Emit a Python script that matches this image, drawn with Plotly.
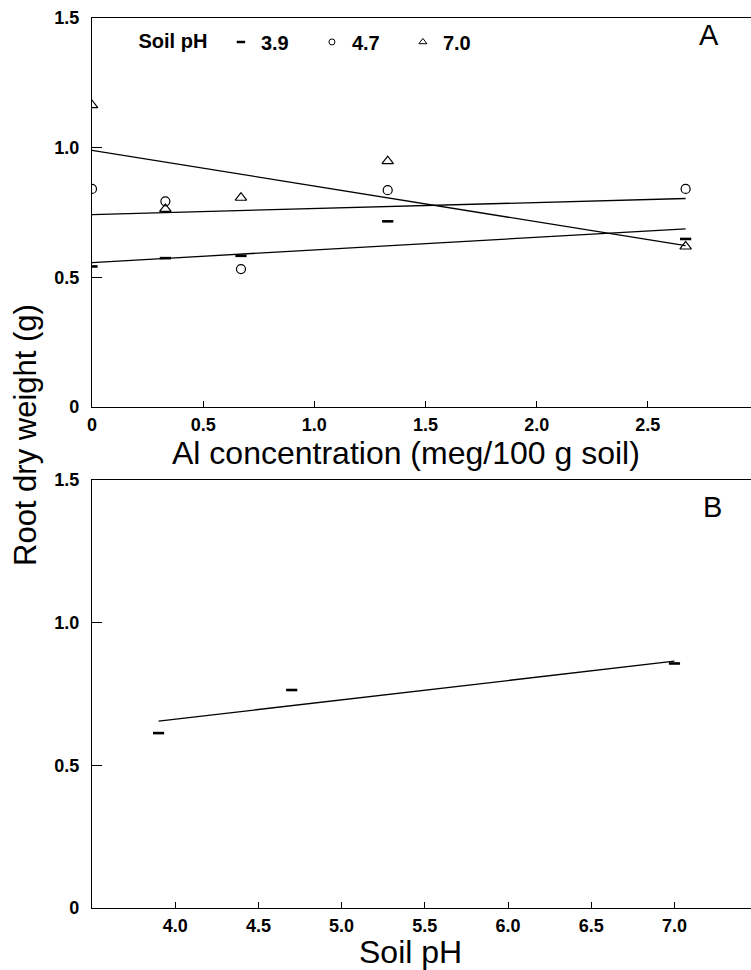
import plotly.graph_objects as go

FONT = "Liberation Sans"

# ---------- Panel A data ----------
al_conc = [0.0, 0.33, 0.67, 1.33, 2.67]
rdw_ph39 = [0.542, 0.574, 0.583, 0.716, 0.648]
rdw_ph47 = [0.841, 0.793, 0.532, 0.836, 0.841]
rdw_ph70 = [1.164, 0.764, 0.807, 0.948, 0.619]

fit_x = [0.0, 2.67]
fit_ph39 = [0.557, 0.687]
fit_ph47 = [0.742, 0.804]
fit_ph70 = [0.990, 0.622]

# ---------- Panel B data ----------
soil_ph = [3.9, 4.7, 7.0]
rdw_mean = [0.613, 0.764, 0.857]
fitB_x = [3.9, 7.0]
fitB_y = [0.655, 0.865]

ph_labels = ["3.9", "4.7", "7.0"]

fig = go.Figure()

dash_m = dict(symbol="line-ew", size=8, color="black", line=dict(color="black", width=2.6))
circ_m = dict(symbol="circle-open", size=9, color="black", line=dict(color="black", width=1.2))
tri_m = dict(symbol="triangle-up-open", size=10, color="black", line=dict(color="black", width=1.2))

line_style = dict(color="black", width=1.3)

# Panel A fitted lines
for fy in (fit_ph39, fit_ph47, fit_ph70):
    fig.add_trace(go.Scatter(x=fit_x, y=fy, mode="lines", line=line_style,
                             showlegend=False, xaxis="x", yaxis="y", hoverinfo="skip"))
# Panel A markers
for ys, m in ((rdw_ph39, dash_m), (rdw_ph47, circ_m), (rdw_ph70, tri_m)):
    fig.add_trace(go.Scatter(x=al_conc, y=ys, mode="markers", marker=m,
                             showlegend=False, xaxis="x", yaxis="y"))

# Legend entries (small symbols)
leg_syms = [
    dict(symbol="line-ew", size=6, color="black", line=dict(color="black", width=2.4)),
    dict(symbol="circle-open", size=6, color="black", line=dict(color="black", width=1)),
    dict(symbol="triangle-up-open", size=7, color="black", line=dict(color="black", width=1)),
]
for lab, m in zip(ph_labels, leg_syms):
    fig.add_trace(go.Scatter(x=[None], y=[None], mode="markers", marker=m, name=lab,
                             showlegend=True, xaxis="x", yaxis="y"))

# Panel B
fig.add_trace(go.Scatter(x=fitB_x, y=fitB_y, mode="lines", line=line_style,
                         showlegend=False, xaxis="x2", yaxis="y2", hoverinfo="skip"))
fig.add_trace(go.Scatter(x=soil_ph, y=rdw_mean, mode="markers", marker=dash_m,
                         showlegend=False, xaxis="x2", yaxis="y2"))

tickfont = dict(family=FONT, size=18, color="black", weight="bold")
common_x = dict(showline=True, linecolor="black", linewidth=1.3, mirror=True,
                ticks="inside", ticklen=6, tickwidth=1.2, tickcolor="black",
                showgrid=False, zeroline=False, tickfont=tickfont, ticklabelstandoff=1)
common_y = dict(showline=True, linecolor="black", linewidth=1.3, mirror=False,
                ticks="inside", ticklen=10, tickwidth=1.2, tickcolor="black",
                showgrid=False, zeroline=False, tickfont=tickfont, ticklabelstandoff=8,
                range=[0, 1.5], tickvals=[0, 0.5, 1.0, 1.5], ticktext=["0", "0.5", "1.0", "1.5"])

title_font = dict(family=FONT, size=32, color="black")

fig.update_layout(
    width=751, height=970,
    margin=dict(l=92, r=0, t=18, b=62),
    paper_bgcolor="white", plot_bgcolor="white",
    font=dict(family=FONT, color="black"),
    xaxis=dict(common_x, domain=[0, 1], anchor="y", range=[0, 2.964],
               tickvals=[0, 0.5, 1.0, 1.5, 2.0, 2.5],
               ticktext=["0", "0.5", "1.0", "1.5", "2.0", "2.5"]),
    yaxis=dict(common_y, domain=[0.5629, 1.0], anchor="x"),
    xaxis2=dict(common_x, domain=[0, 1], anchor="y2", range=[3.5, 7.46],
                tickvals=[4.0, 4.5, 5.0, 5.5, 6.0, 6.5, 7.0],
                ticktext=["4.0", "4.5", "5.0", "5.5", "6.0", "6.5", "7.0"]),
    yaxis2=dict(common_y, domain=[0, 0.4809], anchor="x2"),
    showlegend=True,
    legend=dict(orientation="h", x=0.0675, y=0.995, xanchor="left", yanchor="top",
                bgcolor="rgba(0,0,0,0)", borderwidth=0,
                font=dict(family=FONT, size=20, color="black", weight="bold"),
                title=dict(text="Soil pH ", side="left",
                           font=dict(family=FONT, size=20, color="black", weight="bold")),
                itemsizing="trace", entrywidth=46, entrywidthmode="pixels"),
    annotations=[
        dict(text="A", xref="paper", yref="paper", x=(709 - 92) / 659, y=1 - (35 - 18) / 890,
             showarrow=False, font=dict(family=FONT, size=29, color="black"),
             xanchor="center", yanchor="middle"),
        dict(text="B", xref="paper", yref="paper", x=(712 - 92) / 659, y=1 - (507 - 18) / 890,
             showarrow=False, font=dict(family=FONT, size=29, color="black"),
             xanchor="center", yanchor="middle"),
        dict(text="Root dry weight (g)", xref="paper", yref="paper",
             x=-(92 - 25) / 659, y=1 - (435 - 18) / 890, textangle=-90,
             showarrow=False, font=dict(family=FONT, size=31, color="black"),
             xanchor="center", yanchor="middle"),
        dict(text="Al concentration (meg/100 g soil)", xref="paper", yref="paper",
             x=(405.6 - 92) / 659, y=1 - (453 - 18) / 890,
             showarrow=False, font=title_font, xanchor="center", yanchor="middle"),
        dict(text="Soil pH", xref="paper", yref="paper",
             x=(410 - 92) / 659, y=1 - (952 - 18) / 890,
             showarrow=False, font=title_font, xanchor="center", yanchor="middle"),
    ],
)

fig.write_html("out.html")
